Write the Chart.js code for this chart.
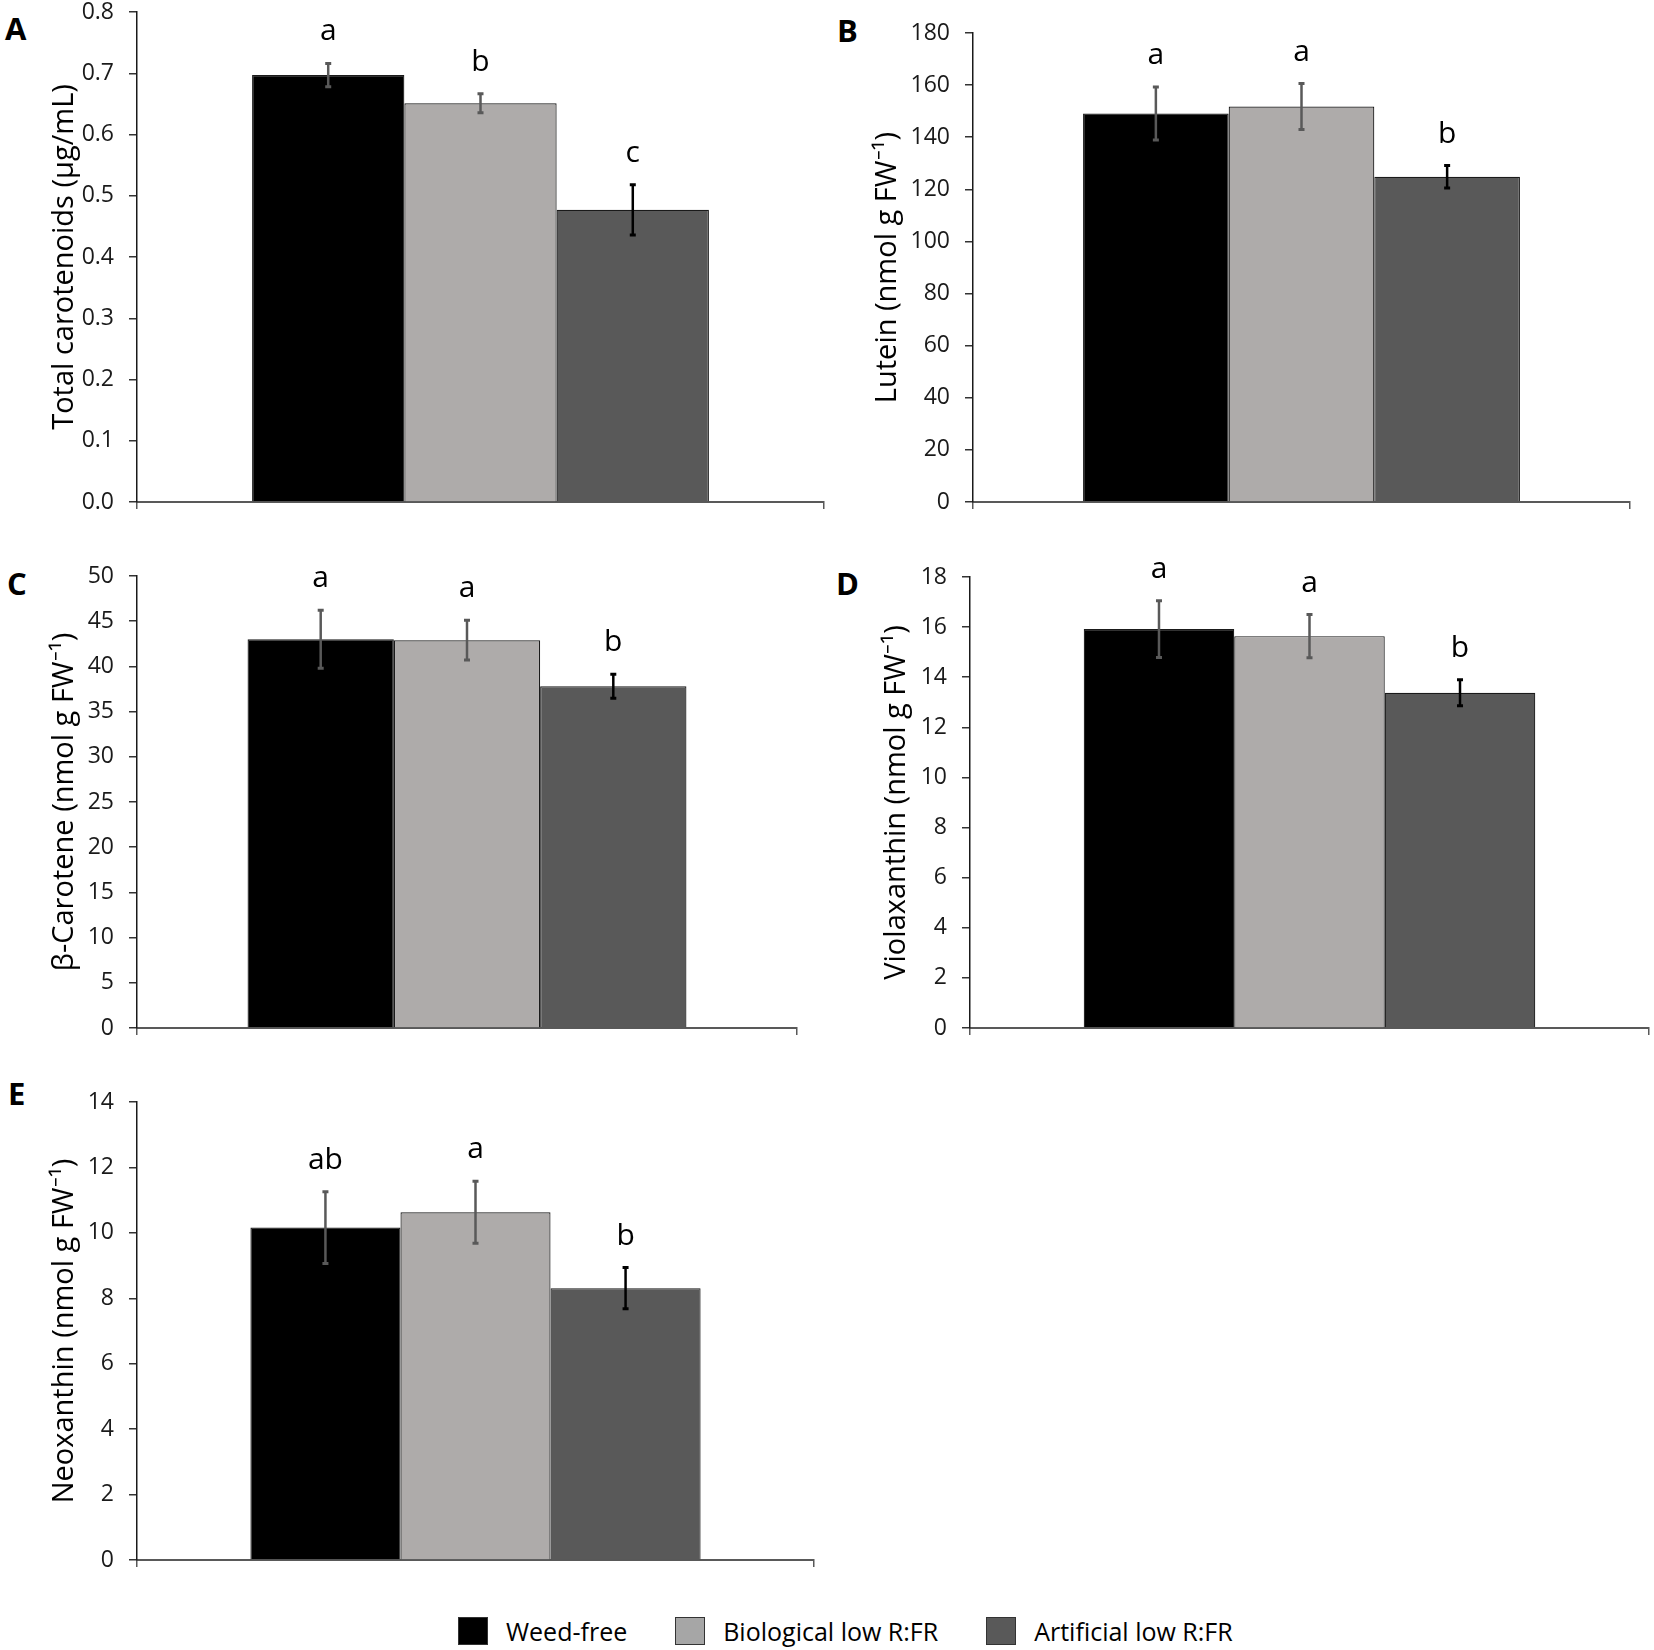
<!DOCTYPE html>
<html>
<head>
<meta charset="utf-8">
<script src="https://cdn.jsdelivr.net/npm/chart.js@4.4.1/dist/chart.umd.min.js"></script>
<style>
  body { margin: 0; background: #fff; width: 1654px; height: 1650px; position: relative; overflow: hidden; font-family: 'Open Sans', sans-serif; }
  canvas { position: absolute; }
  .panel-label { position: absolute; font-weight: 700; font-size: 31px; line-height: 31px; color: #000; }
  #legend { position: absolute; left: 458px; top: 1617px; display: flex; align-items: center; height: 27px; font-size: 25px; color: #000; }
  #legend .item { display: flex; align-items: center; margin-right: 48px; }
  #legend .box { width: 28px; height: 26px; border: 1px solid #333; margin-right: 18px; }
</style>
</head>
<body>
<div id="legend"></div>
<script>
// treatments (shared by all panels)
const groups = ['Weed-free', 'Biological low R:FR', 'Artificial low R:FR'];
const barColors = ['#000000', '#aeabaa', '#595959'];
const errColors = ['#595959', '#595959', '#000000'];

// A - total carotenoids
const carotenoidsMean = [0.697, 0.651, 0.477];
const carotenoidsErr = [0.019, 0.0155, 0.041];
const carotenoidsLetters = ['a', 'b', 'c'];

// B - lutein
const luteinMean = [149.1, 151.8, 124.8];
const luteinErr = [10.2, 8.8, 4.3];
const luteinLetters = ['a', 'a', 'b'];

// C - beta-carotene
const betaCaroteneMean = [43.0, 42.9, 37.8];
const betaCaroteneErr = [3.2, 2.2, 1.33];
const betaCaroteneLetters = ['a', 'a', 'b'];

// D - violaxanthin
const violaxanthinMean = [15.92, 15.64, 13.38];
const violaxanthinErr = [1.13, 0.86, 0.52];
const violaxanthinLetters = ['a', 'a', 'b'];

// E - neoxanthin
const neoxanthinMean = [10.16, 10.63, 8.31];
const neoxanthinErr = [1.10, 0.95, 0.63];
const neoxanthinLetters = ['ab', 'a', 'b'];

// y axis ranges
const yMax = { A: 0.8, B: 180, C: 50, D: 18, E: 14 };
const yStep = { A: 0.1, B: 20, C: 5, D: 2, E: 2 };

const panels = [
    { id: 'A', mean: carotenoidsMean, err: carotenoidsErr, letters: carotenoidsLetters,
      title: 'Total carotenoids (µg/mL)', decimals: 1,
      area: { l: 137, t: 12, r: 824, b: 502 }, axisW: 90, label: { x: 5, y: 13 } },
    { id: 'B', mean: luteinMean, err: luteinErr, letters: luteinLetters,
      title: 'Lutein (nmol g FW⁻¹)', decimals: 0,
      area: { l: 973, t: 33, r: 1630, b: 502 }, axisW: 103, label: { x: 837, y: 15 } },
    { id: 'C', mean: betaCaroteneMean, err: betaCaroteneErr, letters: betaCaroteneLetters,
      title: 'β-Carotene (nmol g FW⁻¹)', decimals: 0,
      area: { l: 137, t: 576, r: 797, b: 1028 }, axisW: 90, label: { x: 7, y: 568 } },
    { id: 'D', mean: violaxanthinMean, err: violaxanthinErr, letters: violaxanthinLetters,
      title: 'Violaxanthin (nmol g FW⁻¹)', decimals: 0,
      area: { l: 970, t: 577, r: 1649, b: 1028 }, axisW: 91, label: { x: 836, y: 568 } },
    { id: 'E', mean: neoxanthinMean, err: neoxanthinErr, letters: neoxanthinLetters,
      title: 'Neoxanthin (nmol g FW⁻¹)', decimals: 0,
      area: { l: 137, t: 1102, r: 814, b: 1560 }, axisW: 90, label: { x: 8, y: 1078 } }
];

const PAD_TOP = 40;
const PAD_RIGHT = 10;
const PAD_BOTTOM = 32;
const X_AXIS_H = 10;

// error bars + significance letters, drawn from the y scale
const errorBarPlugin = {
    id: 'errorBars',
    afterDatasetsDraw(chart, args, opts) {
        const ctx = chart.ctx;
        const y = chart.scales.y;
        ctx.save();
        chart.data.datasets.forEach((ds, i) => {
            const bar = chart.getDatasetMeta(i).data[0];
            const v = ds.data[0];
            const e = opts.err[i];
            const top = y.getPixelForValue(v + e);
            const bottom = y.getPixelForValue(v - e);
            ctx.strokeStyle = errColors[i];
            ctx.lineWidth = 2.5;
            ctx.beginPath();
            ctx.moveTo(bar.x, top);
            ctx.lineTo(bar.x, bottom);
            ctx.stroke();
            ctx.lineWidth = 3;
            ctx.beginPath();
            ctx.moveTo(bar.x - 3, top);
            ctx.lineTo(bar.x + 3, top);
            ctx.moveTo(bar.x - 3, bottom);
            ctx.lineTo(bar.x + 3, bottom);
            ctx.stroke();

            ctx.fillStyle = '#000';
            ctx.font = "30px 'Open Sans'";
            ctx.textAlign = 'center';
            ctx.textBaseline = 'alphabetic';
            ctx.fillText(opts.letters[i], bar.x, top - 23);
        });
        ctx.restore();
    }
};

Chart.defaults.font.family = "'Open Sans', sans-serif";

panels.forEach(p => {
    const a = p.area;
    const canvas = document.createElement('canvas');
    const w = p.axisW + (a.r - a.l) + PAD_RIGHT;
    const h = PAD_TOP + (a.b - a.t) + X_AXIS_H + PAD_BOTTOM;
    canvas.width = w;
    canvas.height = h;
    canvas.style.left = (a.l - p.axisW) + 'px';
    canvas.style.top = (a.t - PAD_TOP) + 'px';
    canvas.style.width = w + 'px';
    canvas.style.height = h + 'px';
    document.body.appendChild(canvas);

    const lbl = document.createElement('div');
    lbl.className = 'panel-label';
    lbl.textContent = p.id;
    lbl.style.left = p.label.x + 'px';
    lbl.style.top = p.label.y + 'px';
    document.body.appendChild(lbl);

    new Chart(canvas.getContext('2d'), {
        type: 'bar',
        data: {
            labels: [''],
            datasets: groups.map((g, i) => ({
                label: g,
                data: [p.mean[i]],
                backgroundColor: barColors[i],
                borderColor: '#1a1a1a',
                borderWidth: 1.2,
                borderSkipped: 'bottom',
                categoryPercentage: 0.665,
                barPercentage: 1.0
            }))
        },
        options: {
            responsive: false,
            animation: false,
            devicePixelRatio: 1,
            layout: { padding: { top: PAD_TOP, right: PAD_RIGHT, bottom: PAD_BOTTOM, left: 0 } },
            plugins: {
                legend: { display: false },
                tooltip: { enabled: false },
                errorBars: { err: p.err, letters: p.letters }
            },
            scales: {
                x: {
                    afterFit: s => { s.height = X_AXIS_H; },
                    ticks: { display: false },
                    grid: { drawOnChartArea: false, drawTicks: true, tickLength: 7, color: '#595959', lineWidth: 1.5 },
                    border: { display: true, color: '#595959', width: 2 }
                },
                y: {
                    min: 0,
                    max: yMax[p.id],
                    afterFit: s => { s.width = p.axisW; },
                    ticks: {
                        stepSize: yStep[p.id],
                        padding: 15,
                        color: '#1a1a1a',
                        font: { size: 23 },
                        callback: v => Number(v).toFixed(p.decimals)
                    },
                    grid: { drawOnChartArea: false, drawTicks: true, tickLength: 8, color: '#333', lineWidth: 1.5 },
                    border: { display: true, color: '#1a1a1a', width: 1.5 },
                    title: {
                        display: true,
                        text: p.title,
                        color: '#000',
                        padding: 0,
                        font: { size: 29 }
                    }
                }
            }
        },
        plugins: [errorBarPlugin]
    });
});

// shared legend
const legend = document.getElementById('legend');
groups.forEach((g, i) => {
    const item = document.createElement('div');
    item.className = 'item';
    const box = document.createElement('div');
    box.className = 'box';
    box.style.background = i === 1 ? '#a6a6a6' : barColors[i];
    const txt = document.createElement('span');
    txt.textContent = g;
    item.appendChild(box);
    item.appendChild(txt);
    legend.appendChild(item);
});
</script>
</body>
</html>
